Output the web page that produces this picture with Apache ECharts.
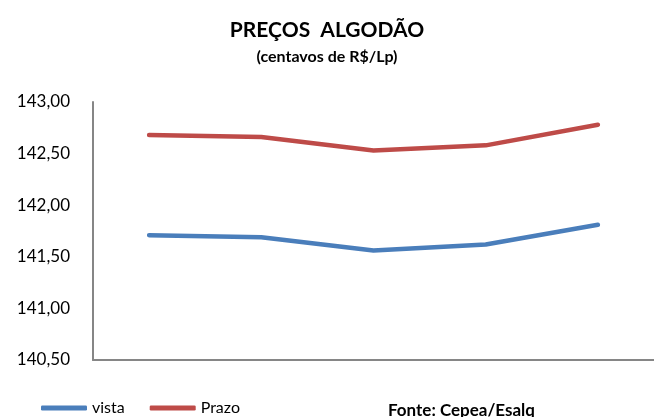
<!DOCTYPE html>
<html>
<head>
<meta charset="utf-8">
<script src="https://cdn.jsdelivr.net/npm/echarts@6/dist/echarts.min.js"></script>
<style>
  html, body { margin: 0; padding: 0; background: #fff; }
  #main { width: 654px; height: 417px; }
</style>
</head>
<body>
<div id="main"></div>
<script>
// dados
var dias = ['1', '2', '3', '4', '5'];
var vista = [141.71, 141.69, 141.56, 141.62, 141.81];
var prazo = [142.68, 142.66, 142.53, 142.58, 142.78];
var yMin = 140.5, yMax = 143, yStep = 0.5;

var myChart = echarts.init(document.getElementById('main'));

var option = {
    animation: false,
    textStyle: { fontFamily: 'Lato' },
    title: {
        text: 'PREÇOS  ALGODÃO',
        subtext: '(centavos de R$/Lp)',
        left: 'center',
        top: 15,
        itemGap: 8,
        textStyle: { fontFamily: 'Lato', fontWeight: 'bold', fontSize: 21, color: '#000' },
        subtextStyle: { fontFamily: 'Lato', fontWeight: 'bold', fontSize: 16, color: '#000' }
    },
    legend: {
        data: ['vista', 'Prazo'],
        left: 36,
        top: 395,
        icon: 'roundRect',
        itemWidth: 46,
        itemHeight: 5,
        itemGap: 25,
        textStyle: { fontFamily: 'Lato', fontSize: 16, color: '#000' }
    },
    grid: {
        left: 93,
        right: -4,
        top: 102,
        bottom: 57,
        containLabel: false
    },
    xAxis: {
        type: 'category',
        data: dias,
        boundaryGap: true,
        axisLine: { lineStyle: { color: '#868686', width: 2 } },
        axisTick: { show: false },
        axisLabel: { show: false }
    },
    yAxis: {
        type: 'value',
        min: yMin,
        max: yMax,
        interval: yStep,
        axisLine: { show: true, lineStyle: { color: '#868686', width: 2 } },
        axisTick: { show: false },
        splitLine: { show: false },
        axisLabel: {
            margin: 23,
            fontFamily: 'Lato',
            fontSize: 17,
            color: '#000',
            formatter: function (v) { return v.toFixed(2).replace('.', ','); }
        }
    },
    series: [
        {
            name: 'vista',
            type: 'line',
            data: vista,
            symbol: 'none',
            color: '#4a7ebb',
            lineStyle: { width: 4.5, color: '#4a7ebb', cap: 'round', join: 'round' }
        },
        {
            name: 'Prazo',
            type: 'line',
            data: prazo,
            symbol: 'none',
            color: '#be4b48',
            lineStyle: { width: 4.5, color: '#be4b48', cap: 'round', join: 'round' }
        }
    ],
    graphic: [
        {
            type: 'text',
            left: 388,
            top: 402,
            style: {
                text: 'Fonte: Cepea/Esalq',
                fontFamily: 'Lato',
                fontWeight: 'bold',
                fontSize: 17,
                fill: '#000'
            }
        }
    ]
};

myChart.setOption(option);
</script>
</body>
</html>
